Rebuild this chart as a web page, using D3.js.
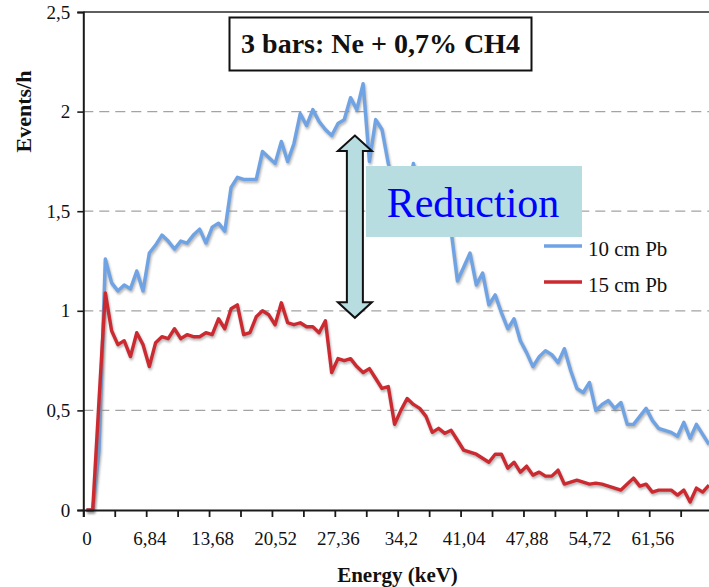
<!DOCTYPE html>
<html>
<head>
<meta charset="utf-8">
<script src="https://cdn.jsdelivr.net/npm/d3@7"></script>
<style>
  html, body { margin: 0; padding: 0; background: #fff; overflow: hidden; }
  svg { display: block; font-family: "Times New Roman", "Liberation Serif", serif; }
</style>
</head>
<body>
<svg id="chart" width="709" height="587"></svg>
<script>
// ---- data -------------------------------------------------------------
// Energy bins (keV); each bin is 0.684 keV wide, 100 bins.
const binWidthKeV = 0.684;
const energies = d3.range(100).map(i => +(i * binWidthKeV).toFixed(3));

// Category tick labels (every 10th bin)
const xTickLabels = ["0", "6,84", "13,68", "20,52", "27,36", "34,2", "41,04", "47,88", "54,72", "61,56"];

// Value axis ticks
const yTicks = [0, 0.5, 1, 1.5, 2, 2.5];
const yTickLabels = ["0", "0,5", "1", "1,5", "2", "2,5"];

// Background rate, 10 cm lead shielding (events/h)
const pb10 = [
  0, 0, 0.30, 1.26, 1.14, 1.10, 1.13, 1.11, 1.20, 1.10,
  1.29, 1.33, 1.38, 1.35, 1.31, 1.35, 1.34, 1.38, 1.41, 1.34,
  1.42, 1.44, 1.40, 1.62, 1.67, 1.66, 1.66, 1.66, 1.80, 1.77,
  1.74, 1.85, 1.75, 1.84, 1.99, 1.93, 2.01, 1.95, 1.91, 1.88,
  1.94, 1.96, 2.07, 2.01, 2.14, 1.75, 1.96, 1.91, 1.74, 1.62,
  1.66, 1.58, 1.74, 1.56, 1.52, 1.45, 1.48, 1.40, 1.40, 1.15,
  1.22, 1.29, 1.13, 1.19, 1.03, 1.08, 0.99, 0.91, 0.96, 0.85,
  0.79, 0.72, 0.77, 0.80, 0.78, 0.74, 0.81, 0.70, 0.61, 0.59,
  0.64, 0.50, 0.53, 0.55, 0.51, 0.54, 0.43, 0.43, 0.47, 0.51,
  0.45, 0.41, 0.40, 0.39, 0.37, 0.44, 0.36, 0.43, 0.38, 0.33
];

// Background rate, 15 cm lead shielding (events/h)
const pb15 = [
  0, 0, 0.55, 1.09, 0.90, 0.83, 0.85, 0.77, 0.89, 0.83,
  0.72, 0.84, 0.87, 0.86, 0.91, 0.86, 0.88, 0.87, 0.87, 0.89,
  0.88, 0.96, 0.91, 1.01, 1.03, 0.88, 0.89, 0.97, 1.00, 0.98,
  0.93, 1.04, 0.94, 0.93, 0.94, 0.92, 0.92, 0.89, 0.95, 0.69,
  0.76, 0.75, 0.76, 0.72, 0.69, 0.71, 0.66, 0.61, 0.62, 0.43,
  0.50, 0.56, 0.53, 0.51, 0.47, 0.39, 0.41, 0.385, 0.40, 0.35,
  0.30, 0.29, 0.28, 0.26, 0.24, 0.28, 0.28, 0.21, 0.24, 0.19,
  0.22, 0.175, 0.19, 0.17, 0.17, 0.20, 0.13, 0.14, 0.15, 0.14,
  0.13, 0.135, 0.13, 0.12, 0.11, 0.10, 0.13, 0.16, 0.12, 0.13,
  0.09, 0.10, 0.10, 0.10, 0.075, 0.10, 0.04, 0.11, 0.09, 0.125
];

const seriesNames = ["10 cm Pb", "15 cm Pb"];
const seriesValues = [pb10, pb15];

// Annotation: reduction arrow spanning the gap between the two spectra
const arrowEnergy = 29.2;
const arrowFrom = 0.965;
const arrowTo = 1.88;

// ---- styles -----------------------------------------------------------
const seriesColors = ["#6fa3e4", "#cc2a31"];
const calloutFill = "#b7dde1";

// ---- layout -----------------------------------------------------------
const svg = d3.select("#chart");
const plotLeft = 83.3, plotTop = 12, plotBottom = 510;
const plotRight = plotLeft + energies.length * 6.288;

// Category-style x scale: each bin occupies one band, points sit at band centres
const x = d3.scaleLinear()
  .domain([-binWidthKeV / 2, energies[energies.length - 1] + binWidthKeV / 2])
  .range([plotLeft, plotRight]);
const y = d3.scaleLinear().domain([0, 2.5]).range([plotBottom, plotTop]);

// Soft drop-shadow for the series lines
const defs = svg.append("defs");
defs.append("filter").attr("id", "soft")
  .attr("x", "-5%").attr("y", "-5%").attr("width", "110%").attr("height", "110%")
  .append("feGaussianBlur").attr("stdDeviation", 0.9);

// Dashed horizontal gridlines
svg.append("g")
  .selectAll("line")
  .data(yTicks.filter(v => v > 0 && v < 2.5))
  .join("line")
  .attr("x1", plotLeft).attr("x2", plotRight)
  .attr("y1", d => y(d)).attr("y2", d => y(d))
  .attr("stroke", "#a3a3a3").attr("stroke-width", 1.2)
  .attr("stroke-dasharray", "10,6");

// Plot-area top border
svg.append("line")
  .attr("x1", plotLeft).attr("x2", plotRight)
  .attr("y1", y(2.5)).attr("y2", y(2.5))
  .attr("stroke", "#2a2a2a").attr("stroke-width", 1.6);

// Series
const line = d3.line()
  .x((d, i) => x(energies[i]))
  .y(d => y(d));

const seriesG = svg.append("g");
seriesValues.forEach((vals, k) => {
  seriesG.append("path")
    .attr("d", line(vals))
    .attr("fill", "none")
    .attr("stroke", "#7d7d7d").attr("stroke-opacity", 0.55)
    .attr("stroke-width", 3.6)
    .attr("stroke-linejoin", "round")
    .attr("transform", "translate(1,2)")
    .attr("filter", "url(#soft)");
  seriesG.append("path")
    .attr("d", line(vals))
    .attr("fill", "none")
    .attr("stroke", seriesColors[k])
    .attr("stroke-width", 3.4)
    .attr("stroke-linejoin", "round");
});

// Y axis
const yAxis = svg.append("g")
  .attr("transform", `translate(${plotLeft},0)`)
  .call(d3.axisLeft(y)
    .tickValues(yTicks)
    .tickFormat((d, i) => yTickLabels[i])
    .tickSize(6).tickPadding(7));
yAxis.select(".domain").attr("stroke", "#1a1a1a").attr("stroke-width", 2);
yAxis.selectAll(".tick line").attr("stroke", "#1a1a1a").attr("stroke-width", 1.6);
yAxis.selectAll("text").attr("font-size", 19).attr("fill", "#111")
  .attr("font-family", "'Times New Roman','Liberation Serif',serif");

// X axis: tick marks on bin boundaries (every 5 bins) ...
const tickBounds = energies.filter((e, i) => i % 5 === 0).map(e => e - binWidthKeV / 2);
tickBounds.push(energies[energies.length - 1] + binWidthKeV / 2);
const xAxis = svg.append("g")
  .attr("transform", `translate(0,${plotBottom})`)
  .call(d3.axisBottom(x).tickValues(tickBounds).tickSize(7).tickFormat(""));
xAxis.select(".domain").attr("stroke", "#1a1a1a").attr("stroke-width", 2);
xAxis.selectAll(".tick line").attr("stroke", "#1a1a1a").attr("stroke-width", 1.8);

// ... and labels on the centres of every 10th bin
const labelVals = energies.filter((e, i) => i % 10 === 0);
const xLab = svg.append("g")
  .attr("transform", `translate(0,${plotBottom})`)
  .call(d3.axisBottom(x).tickValues(labelVals)
    .tickFormat((d, i) => xTickLabels[i]).tickSize(0).tickPadding(22));
xLab.select(".domain").remove();
xLab.selectAll("text").attr("font-size", 19).attr("fill", "#111")
  .attr("font-family", "'Times New Roman','Liberation Serif',serif");

// Axis titles
svg.append("text")
  .attr("transform", `translate(31,${(70 + 153) / 2}) rotate(-90)`)
  .attr("text-anchor", "middle")
  .attr("font-size", 22).attr("font-weight", "bold").attr("fill", "#111")
  .text("Events/h");

svg.append("text")
  .attr("x", 397.5).attr("y", 582)
  .attr("text-anchor", "middle")
  .attr("font-size", 21).attr("font-weight", "bold").attr("fill", "#111")
  .text("Energy (keV)");

// Title box
svg.append("rect")
  .attr("x", 229.5).attr("y", 17.5).attr("width", 302).attr("height", 53)
  .attr("fill", "#fff").attr("stroke", "#111").attr("stroke-width", 2);
svg.append("text")
  .attr("x", 380.5).attr("y", 53)
  .attr("text-anchor", "middle")
  .attr("font-size", 28).attr("font-weight", "bold").attr("fill", "#111")
  .text("3 bars: Ne + 0,7% CH4");

// Double-headed reduction arrow
const ax = x(arrowEnergy), aTop = y(arrowTo), aBot = y(arrowFrom);
const sw = 8, hw = 17, hl = 15.5;
const arrowPath = [
  [ax, aTop], [ax + hw, aTop + hl], [ax + sw, aTop + hl],
  [ax + sw, aBot - hl], [ax + hw, aBot - hl], [ax, aBot],
  [ax - hw, aBot - hl], [ax - sw, aBot - hl], [ax - sw, aTop + hl],
  [ax - hw, aTop + hl]
];
svg.append("path")
  .attr("d", d3.line()(arrowPath) + "Z")
  .attr("fill", calloutFill).attr("stroke", "#111").attr("stroke-width", 2)
  .attr("stroke-linejoin", "miter");

// "Reduction" callout
svg.append("rect")
  .attr("x", 366).attr("y", 166).attr("width", 216).attr("height", 71)
  .attr("fill", calloutFill);
svg.append("text")
  .attr("x", 473).attr("y", 217)
  .attr("text-anchor", "middle")
  .attr("font-size", 42).attr("fill", "#0000ff")
  .text("Reduction");

// Legend
const legend = svg.append("g");
const legendY = [246, 282];
seriesNames.forEach((name, k) => {
  legend.append("line")
    .attr("x1", 545).attr("x2", 583)
    .attr("y1", legendY[k] + 1.5).attr("y2", legendY[k] + 1.5)
    .attr("stroke", "#7d7d7d").attr("stroke-opacity", 0.45)
    .attr("stroke-width", 3.4).attr("filter", "url(#soft)");
  legend.append("line")
    .attr("x1", 544).attr("x2", 582)
    .attr("y1", legendY[k]).attr("y2", legendY[k])
    .attr("stroke", seriesColors[k]).attr("stroke-width", 3.4);
  legend.append("text")
    .attr("x", 588).attr("y", legendY[k] + 9.5)
    .attr("font-size", 21).attr("fill", "#111")
    .text(name);
});
</script>
</body>
</html>
